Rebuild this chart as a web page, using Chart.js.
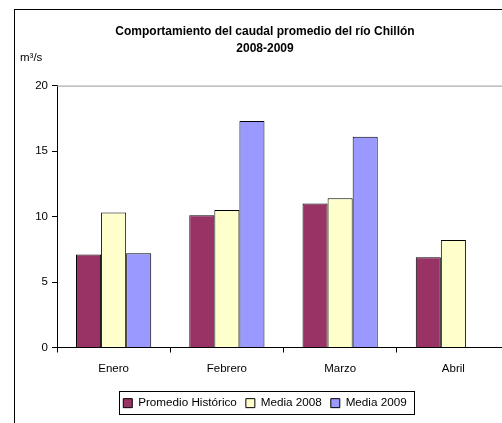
<!DOCTYPE html>
<html>
<head>
<meta charset="utf-8">
<script src="https://cdn.jsdelivr.net/npm/chart.js@4.4.1/dist/chart.umd.min.js"></script>
<style>
    html, body { margin: 0; padding: 0; background: #fff; overflow: hidden; width: 502px; height: 423px; }
    #marco { position: absolute; left: 14px; top: 9px; width: 700px; height: 600px; border-left: 1px solid #000; border-top: 1px solid #000; }
    #grafico { position: absolute; left: 0; top: 0; }
</style>
</head>
<body>
<div id="marco"></div>
<canvas id="grafico" width="530" height="423"></canvas>
<script>
// Datos del gráfico
const meses = ['Enero', 'Febrero', 'Marzo', 'Abril'];
const promedioHistorico = [7.1, 10.1, 11.0, 6.9];
const media2008 = [10.3, 10.5, 11.4, 8.2];
const media2009 = [7.2, 17.3, 16.1, null];
const ticksY = [0, 5, 10, 15, 20];

const fuente = "'Liberation Sans', Arial, sans-serif";

// Línea superior gris, unidad y recuadro de la leyenda
const extras = {
    id: 'extras',
    afterDraw(chart) {
        const ctx = chart.ctx;
        const area = chart.chartArea;
        ctx.save();
        ctx.strokeStyle = '#999999';
        ctx.lineWidth = 1;
        ctx.beginPath();
        ctx.moveTo(area.left, area.top + 0.5);
        ctx.lineTo(area.right, area.top + 0.5);
        ctx.stroke();

        ctx.fillStyle = '#000';
        ctx.font = '11.5px ' + fuente;
        ctx.textBaseline = 'middle';
        ctx.fillText('m³/s', 20, 58);

        const cajas = chart.legend.legendHitBoxes;
        if (cajas && cajas.length) {
            const izq = cajas[0].left - 4;
            const ult = cajas[cajas.length - 1];
            const der = ult.left + ult.width + 8;
            const arriba = cajas[0].top - 6;
            const abajo = cajas[0].top + cajas[0].height + 5;
            ctx.strokeStyle = '#000';
            ctx.strokeRect(Math.round(izq) + 0.5, Math.round(arriba) + 0.5, Math.round(der - izq), Math.round(abajo - arriba));
        }
        ctx.restore();
    }
};

const ctx = document.getElementById('grafico').getContext('2d');
new Chart(ctx, {
    type: 'bar',
    data: {
        labels: meses,
        datasets: [
            { label: 'Promedio Histórico', data: promedioHistorico, backgroundColor: '#993366' },
            { label: 'Media 2008', data: media2008, backgroundColor: '#FFFFCC' },
            { label: 'Media 2009', data: media2009, backgroundColor: '#9999FF' }
        ].map(d => Object.assign(d, { borderColor: '#000', borderWidth: 1, borderSkipped: 'bottom' }))
    },
    options: {
        responsive: false,
        animation: false,
        layout: { padding: { left: 20, right: 20, top: 0, bottom: 4 } },
        datasets: { bar: { categoryPercentage: 0.664, barPercentage: 1 } },
        scales: {
            x: {
                afterFit(scale) { scale.height += 4; },
                grid: { display: true, drawOnChartArea: false, drawTicks: true, tickLength: 5, color: '#000', offset: true },
                border: { display: true, color: '#000', width: 1 },
                ticks: { color: '#000', font: { family: fuente, size: 11.5 }, padding: 9 }
            },
            y: {
                min: 0,
                max: 20,
                afterFit(scale) { scale.width = 37; },
                afterBuildTicks(scale) { scale.ticks = ticksY.map(v => ({ value: v })); },
                grid: { display: true, drawOnChartArea: false, drawTicks: true, tickLength: 5, color: '#000' },
                border: { display: true, color: '#000', width: 1 },
                ticks: { color: '#000', font: { family: fuente, size: 11.5 }, padding: 4 }
            }
        },
        plugins: {
            title: {
                display: true,
                text: ['Comportamiento del caudal promedio del río Chillón', '2008-2009'],
                color: '#000',
                font: { family: "'Liberation Sans Narrow', 'Liberation Sans', Arial, sans-serif", size: 12, weight: 'bold', lineHeight: 1.4 },
                padding: { top: 23, bottom: 29 }
            },
            legend: {
                position: 'bottom',
                labels: { color: '#000', boxWidth: 9, boxHeight: 9, padding: 9, font: { family: fuente, size: 11.7 } }
            },
            tooltip: { enabled: false }
        }
    },
    plugins: [extras]
});
</script>
</body>
</html>
